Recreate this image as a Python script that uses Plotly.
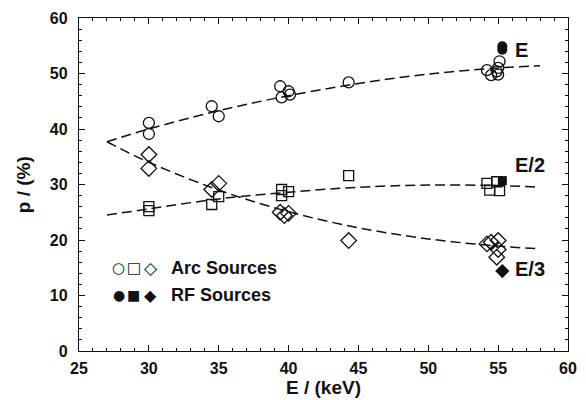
import plotly.graph_objects as go

# ---- data ----
e_arc_x = [30.0, 30.0, 34.5, 35.0, 39.4, 39.5, 40.0, 40.1, 44.3, 54.2, 54.5, 55.0, 55.0, 55.1, 54.9]
e_arc_y = [41.1, 39.1, 44.1, 42.3, 47.7, 45.7, 46.8, 46.2, 48.4, 50.6, 49.7, 49.8, 51.0, 52.2, 50.4]
e_rf_x = [55.3, 55.3]
e_rf_y = [54.3, 54.9]

e2_arc_x = [30.0, 30.0, 34.5, 35.0, 39.5, 39.5, 40.0, 44.3, 54.2, 54.4, 54.9, 55.1]
e2_arc_y = [26.0, 25.3, 26.4, 27.8, 29.1, 28.0, 28.7, 31.6, 30.2, 29.0, 30.5, 28.9]
e2_rf_x = [55.3]
e2_rf_y = [30.7]

e3_arc_x = [30.0, 30.0, 34.5, 35.0, 39.4, 39.7, 40.0, 44.3, 54.2, 54.5, 55.0, 55.0, 54.9]
e3_arc_y = [35.4, 32.9, 29.1, 30.2, 25.0, 24.4, 24.8, 19.9, 19.3, 19.6, 19.9, 18.3, 16.9]
e3_rf_x = [55.3]
e3_rf_y = [14.4]

# dashed guide curves
curve_x = [27, 30, 35, 40, 45, 50, 55, 58]
curve_e = [37.7, 40.0, 43.3, 46.0, 48.2, 49.9, 51.0, 51.4]
curve_e2 = [24.5, 25.6, 27.4, 28.6, 29.5, 29.9, 29.8, 29.5]
curve_e3 = [37.7, 34.0, 29.0, 25.1, 22.2, 20.2, 18.9, 18.4]

x_ticks = [25, 30, 35, 40, 45, 50, 55, 60]
y_ticks = [0, 10, 20, 30, 40, 50, 60]

curve_labels = ["E", "E/2", "E/3"]
label_y = [54.2, 33.5, 14.7]
legend_symbols = [["○", "□", "◇"], ["●", "■", "◆"]]
legend_texts = ["Arc Sources", "RF Sources"]

FONT = "Liberation Sans, Arial, Helvetica, sans-serif"
BLACK = "#111111"

fig = go.Figure()

dash_line = dict(color=BLACK, width=1.5, dash="10px,5px")
for cy in (curve_e, curve_e2, curve_e3):
    fig.add_trace(go.Scatter(x=curve_x, y=cy, mode="lines", line=dict(shape="spline", **dash_line),
                             showlegend=False, hoverinfo="skip"))

open_specs = [
    (e_arc_x, e_arc_y, "circle-open", 11),
    (e2_arc_x, e2_arc_y, "square-open", 10),
    (e3_arc_x, e3_arc_y, "diamond-open", 12),
]
for xs, ys, sym, sz in open_specs:
    fig.add_trace(go.Scatter(x=xs, y=ys, mode="markers",
                             marker=dict(symbol=sym, size=sz, color=BLACK, line=dict(color=BLACK, width=1.3)),
                             showlegend=False))

filled_specs = [
    (e_rf_x, e_rf_y, "circle", 10),
    (e2_rf_x, e2_rf_y, "square", 9),
    (e3_rf_x, e3_rf_y, "diamond", 11),
]
for xs, ys, sym, sz in filled_specs:
    fig.add_trace(go.Scatter(x=xs, y=ys, mode="markers",
                             marker=dict(symbol=sym, size=sz, color=BLACK, line=dict(width=0)),
                             showlegend=False))

# curve labels
for lab, ly in zip(curve_labels, label_y):
    fig.add_annotation(x=56.05, y=ly, xref="x", yref="y", text="<b>%s</b>" % lab, showarrow=False,
                       xanchor="left", yanchor="middle",
                       font=dict(family=FONT, size=20, color=BLACK))

# legend-like text block
row_y = [0.25, 0.167]
sym_x = [0.081, 0.112, 0.147]
sym_sizes = [[15, 15, 17], [14, 14, 16]]
for syms, sizes, txt, ry in zip(legend_symbols, sym_sizes, legend_texts, row_y):
    for s, sx, ss in zip(syms, sym_x, sizes):
        fig.add_annotation(x=sx, y=ry, xref="paper", yref="paper", text=s, showarrow=False,
                           xanchor="center", yanchor="middle",
                           font=dict(family="DejaVu Sans", size=ss, color=BLACK))
    fig.add_annotation(x=0.185, y=ry, xref="paper", yref="paper", text="<b>%s</b>" % txt, showarrow=False,
                       xanchor="left", yanchor="middle",
                       font=dict(family=FONT, size=18, color=BLACK))

# y-axis title as rotated annotation
fig.add_annotation(x=-0.113, y=0.5, xref="paper", yref="paper", text="<b>p / (%)</b>", showarrow=False,
                   textangle=-90, xanchor="center", yanchor="middle",
                   font=dict(family=FONT, size=19, color=BLACK))

axis_common = dict(
    showgrid=False, zeroline=False, showline=True, linecolor=BLACK, linewidth=1.3,
    mirror="ticks", ticks="inside", ticklen=6, tickwidth=1.2, tickcolor=BLACK,
    tickfont=dict(family=FONT, size=16, color=BLACK),
    title_font=dict(family=FONT, size=19, color=BLACK),
)

fig.update_xaxes(range=[25, 60], tickvals=x_ticks, ticktext=["<b>%d</b>" % v for v in x_ticks],
                 minor=dict(dtick=1, ticks="inside", ticklen=3, tickwidth=1, tickcolor=BLACK),
                 title_text="<b>E / (keV)</b>", title_standoff=0, ticklabelstandoff=3, **axis_common)
fig.update_yaxes(range=[0, 60], tickvals=y_ticks, ticktext=["<b>%d</b>" % v for v in y_ticks],
                 minor=dict(dtick=2, ticks="inside", ticklen=3, tickwidth=1, tickcolor=BLACK),
                 ticklabelstandoff=7, **axis_common)

fig.update_layout(
    width=586, height=400,
    margin=dict(l=79, r=9, t=18, b=46),
    paper_bgcolor="white", plot_bgcolor="white",
    showlegend=False,
)

fig.write_html("out.html")
